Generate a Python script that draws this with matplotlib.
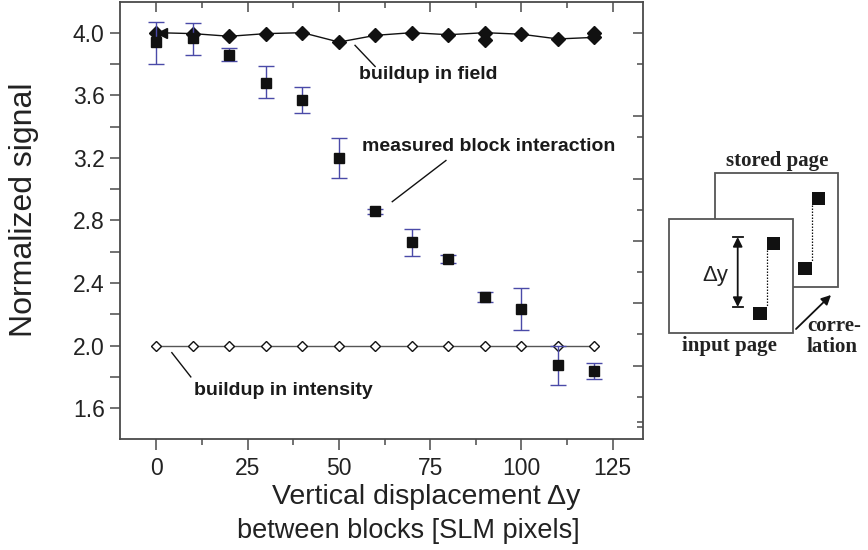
import numpy as np
import matplotlib
matplotlib.use("Agg")
import matplotlib.pyplot as plt
from matplotlib.ticker import MultipleLocator, FixedLocator
from matplotlib.patches import Rectangle

plt.rcParams['font.family'] = ['Liberation Sans', 'DejaVu Sans']

# ---------------- data ----------------
disp = [0, 10, 20, 30, 40, 50, 60, 70, 80, 90, 100, 110, 120]
measured = [3.94, 3.966, 3.86, 3.68, 3.57, 3.20, 2.858, 2.66, 2.554, 2.31, 2.234, 1.875, 1.837]
measured_hi = [4.07, 4.06, 3.90, 3.785, 3.65, 3.326, 2.874, 2.744, 2.58, 2.345, 2.366, 2.00, 1.886]
measured_lo = [3.80, 3.86, 3.82, 3.58, 3.486, 3.07, 2.842, 2.575, 2.526, 2.28, 2.10, 1.75, 1.786]
field = [4.0, 3.994, 3.977, 3.994, 4.0, 3.94, 3.983, 4.0, 3.987, 4.0, 3.99, 3.96, 3.97]
field_extra_x = [90, 120]
field_extra_y = [3.955, 3.995]
intensity = [2.0] * 13
xtick_vals = [0, 25, 50, 75, 100, 125]
ytick_vals = [1.6, 2.0, 2.4, 2.8, 3.2, 3.6, 4.0]

W, H = 868, 550
fig = plt.figure(figsize=(W / 100, H / 100), dpi=100)
L, R, T, B = 120, 643, 1.7, 438.7
ax = fig.add_axes([L / W, 1 - B / H, (R - L) / W, (B - T) / H])

spine_c = '#4a4a4a'
err_c = '#4a4aa8'

# intensity (open diamonds)
ax.plot(disp, intensity, '-', color='#555555', lw=1.0, zorder=2)
ax.plot(disp, intensity, 'D', ms=5.4, mfc='white', mec='#111111', mew=1.0, zorder=3, ls='none')

# field (filled diamonds)
ax.plot(disp, field, '-', color='#111111', lw=1.0, zorder=2)
ax.plot(disp, field, 'D', ms=6.8, color='#111111', zorder=3, ls='none')
ax.plot(field_extra_x, field_extra_y, 'D', ms=6.8, color='#111111', zorder=3, ls='none')
ax.plot([1.6], [field[0]], '<', ms=7, color='#111111', zorder=3)

# measured (squares w/ error bars)
m = np.array(measured)
yerr = [m - np.array(measured_lo), np.array(measured_hi) - m]
ax.errorbar(disp, measured, yerr=yerr, fmt='none', ecolor=err_c, elinewidth=1.0,
            capsize=6, capthick=1.0, zorder=3.5)
ax.plot(disp, measured, 's', ms=7.4, color='#111111', zorder=4, ls='none')

ax.set_xlim(-10, 133.3)
ax.set_ylim(1.405, 4.198)

ax.set_xticks(xtick_vals)
ax.xaxis.set_minor_locator(MultipleLocator(12.5))
ax.set_yticks(ytick_vals)
ax.set_yticklabels([f"{v:.1f}" for v in ytick_vals])
ax.yaxis.set_minor_locator(MultipleLocator(0.2))

for s in ax.spines.values():
    s.set_color(spine_c)
    s.set_linewidth(1.3)

ax.tick_params(axis='both', which='both', direction='out', color=spine_c, width=1.1,
               labelsize=16.5, labelcolor='#222222')
ax.tick_params(axis='x', which='major', length=8, pad=5)
ax.tick_params(axis='x', which='minor', length=4)
ax.tick_params(axis='y', which='major', length=7, pad=4)
ax.tick_params(axis='y', which='minor', length=7)

# top ticks (inward)
top = ax.secondary_xaxis('top')
top.set_xticks(xtick_vals)
top.xaxis.set_minor_locator(MultipleLocator(12.5))
top.tick_params(axis='x', which='both', direction='in', labeltop=False, color=spine_c, width=1.1)
top.tick_params(axis='x', which='major', length=7.5)
top.tick_params(axis='x', which='minor', length=4)
top.spines['top'].set_visible(False)

# right ticks (inward, offset scale as in the original)
right = ax.secondary_yaxis('right')
right.yaxis.set_major_locator(FixedLocator([4.0, 3.466, 3.067, 2.67, 2.272, 1.87]))
right.yaxis.set_minor_locator(FixedLocator([3.80, 3.332, 2.869, 2.471, 2.074, 1.672, 1.51, 1.48]))
right.tick_params(axis='y', which='both', direction='in', labelright=False, color=spine_c, width=1.1)
right.tick_params(axis='y', which='major', length=7)
right.tick_params(axis='y', which='minor', length=4)
right.spines['right'].set_visible(False)

# annotations
bold = dict(fontsize=14, fontweight='bold', color='#1a1a1a')
ax.text(55.5, 3.733, 'buildup in field', ha='left', va='center', **bold)
ax.plot([54.4, 59.9], [3.919, 3.784], color='#111111', lw=1.0)
ax.text(56.4, 3.272, 'measured block interaction', ha='left', va='center', **bold)
ax.plot([79.3, 64.6], [3.183, 2.92], color='#111111', lw=1.0)
ax.text(10.2, 1.711, 'buildup in intensity', ha='left', va='center', **bold)
ax.plot([4.2, 9.4], [1.955, 1.80], color='#111111', lw=1.0)

# axis labels
fig.text(24 / W, 1 - 210 / H, 'Normalized signal', rotation=90, ha='center', va='center',
         fontsize=23, color='#222222')
fig.text(580 / W, 1 - 497 / H, 'Vertical displacement \u0394y', ha='right', va='center',
         fontsize=20.5, color='#222222')
fig.text(580 / W, 1 - 531 / H, 'between blocks [SLM pixels]', ha='right', va='center',
         fontsize=19.5, color='#222222')

# ---------------- inset diagram (pixel coordinates) ----------------
ov = fig.add_axes([0, 0, 1, 1])
ov.set_xlim(0, W)
ov.set_ylim(H, 0)
ov.axis('off')
ov.patch.set_alpha(0)

page_c = '#555555'
ov.add_patch(Rectangle((715, 173), 123, 114, fill=True, fc='white', ec=page_c, lw=1.3, zorder=1))
ov.add_patch(Rectangle((669, 219), 124, 114, fill=True, fc='white', ec=page_c, lw=1.3, zorder=2))
sq = 13.3
for (x0, y0) in [(811.7, 191.7), (798.3, 261.7)]:
    ov.add_patch(Rectangle((x0, y0), sq, sq, fc='#111111', ec='none', zorder=1.5))
ov.plot([811.7, 811.7], [205, 261.7], ls=(0, (1.2, 1.2)), color='#111111', lw=0.9, zorder=1.5)
for (x0, y0) in [(766.7, 236.7), (753.3, 306.7)]:
    ov.add_patch(Rectangle((x0, y0), sq, sq, fc='#111111', ec='none', zorder=3))
ov.plot([766.7, 766.7], [250, 306.7], ls=(0, (1.2, 1.2)), color='#111111', lw=0.9, zorder=3)

# delta-y arrow
ov.annotate('', xy=(737.7, 237), xytext=(737.7, 307),
            arrowprops=dict(arrowstyle='<|-|>', color='#111111', lw=1.3,
                            mutation_scale=14, shrinkA=0, shrinkB=0), zorder=3)
ov.plot([733, 743], [237, 237], color='#111111', lw=1.3, zorder=3)
ov.plot([733, 743], [307, 307], color='#111111', lw=1.3, zorder=3)
ov.text(715, 276, '\u0394y', ha='center', va='center', fontsize=16, color='#222222', zorder=3)

# correlation arrow
ov.annotate('', xy=(831, 295), xytext=(796, 329),
            arrowprops=dict(arrowstyle='-|>', color='#111111', lw=1.3,
                            mutation_scale=14, shrinkA=0, shrinkB=0), zorder=3)

serif = dict(family=['Liberation Serif', 'DejaVu Serif'], fontweight='bold', fontsize=15,
             color='#222222', zorder=3)
ov.text(777, 161, 'stored page', ha='center', va='center', **serif)
ov.text(729, 346, 'input page', ha='center', va='center', **serif)
ov.text(807, 326, 'corre-', ha='left', va='center', **serif)
ov.text(807, 347, 'lation', ha='left', va='center', **serif)

fig.savefig('out.png', dpi=100)
